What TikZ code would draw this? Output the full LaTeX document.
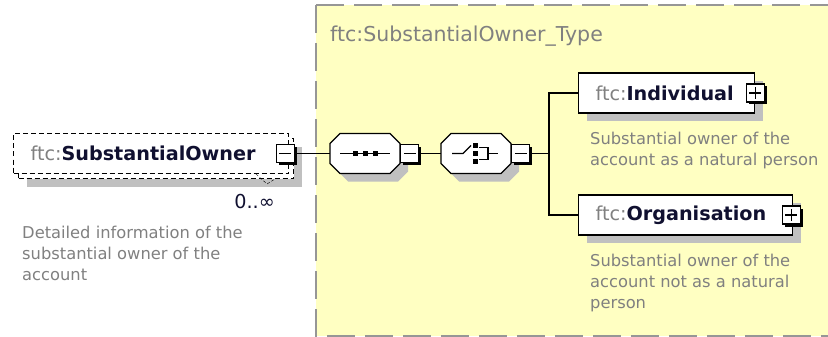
\documentclass[tikz,border=0pt]{standalone}
\usepackage{fontspec}
\setmainfont{DejaVu Sans}
\usetikzlibrary{positioning,shadows}
\definecolor{typebg}{RGB}{255,255,194}
\definecolor{typeline}{RGB}{150,150,150}
\definecolor{docgray}{RGB}{128,128,128}
\definecolor{namecol}{RGB}{16,16,48}
\definecolor{shadowcol}{RGB}{192,192,192}
\newcommand{\ns}{{\color{docgray}ftc:}}
\newcommand{\docfont}{\fontsize{16.3}{21}\selectfont}
\newcommand{\namefont}{\fontsize{19.2}{23}\selectfont}
\newcommand{\titlefont}{\fontsize{20.5}{24}\selectfont}

\begin{document}
\begin{tikzpicture}[x=1pt, y=-1pt,
    elem/.style={draw, line width=1.2pt, fill=white, minimum height=40pt, inner xsep=17pt, inner ysep=0pt, align=left, text=namecol, font=\namefont},
    eshadow/.style={drop shadow={shadow xshift=8pt, shadow yshift=-8pt, fill=shadowcol, opacity=1}},
    comp/.style={minimum width=70pt, minimum height=40pt, inner sep=0pt},
    octa/.pic={
      \fill[shadowcol] (-17,-12) -- (33,-12) -- (43,-2) -- (43,18) -- (33,28) -- (-17,28) -- (-27,18) -- (-27,-2) -- cycle;
      \draw[line width=1.2pt, fill=white] (-25,-20) -- (25,-20) -- (35,-10) -- (35,10) -- (25,20) -- (-25,20) -- (-35,10) -- (-35,-10) -- cycle;
    },
    expbox/.style={draw, line width=1.2pt, fill=white, minimum size=18pt, inner sep=0pt, drop shadow={shadow xshift=2.5pt, shadow yshift=-2.5pt, fill=black, opacity=1}},
    minusbox/.style={expbox, path picture={\draw[line width=1.2pt] ([xshift=3pt]path picture bounding box.west) -- ([xshift=-3pt]path picture bounding box.east);}},
    plusbox/.style={expbox, path picture={\draw[line width=1.2pt] ([xshift=3pt]path picture bounding box.west) -- ([xshift=-3pt]path picture bounding box.east) ([yshift=3pt]path picture bounding box.south) -- ([yshift=-3pt]path picture bounding box.north);}},
    doc/.style={anchor=north west, inner sep=0pt, align=left, text=docgray, font=\docfont},
    conn/.style={line width=1.2pt}]
\useasboundingbox (0,0) rectangle (828,337);
\fill[typebg] (316,5) rectangle (828,336);
\draw[typeline, line width=2pt, dash pattern=on 28pt off 10pt] (316,5) -- (828,5);
\draw[typeline, line width=2pt, dash pattern=on 28pt off 10pt] (316,5) -- (316,336) -- (828,336);
\node[anchor=base west, inner sep=0pt, text=docgray, font=\titlefont] (typename) at (330,42) {ftc:SubstantialOwner\_Type};

\node[elem, eshadow, dash pattern=on 5pt off 3pt, text width=241pt, anchor=west] (ownback) at (18,158.5) {};
\node[elem, dash pattern=on 5pt off 3pt, text width=241pt, anchor=west] (own) at (13,153.5) {\ns\textbf{SubstantialOwner}};
\draw[dash pattern=on 3pt off 2pt] (256,174) -- (267,184) -- (275,179);
\node[minusbox] (ownx) at ([xshift=-4pt]own.east) {};
\node[anchor=base east, inner sep=0pt, text=namecol, font=\namefont] (owncard) at (275,208) {0..∞};
\node[doc] (owndoc) at (22,225.6) {Detailed information of the\\substantial owner of the\\account};

\node[comp] (seq) at (365,153.5) {};
\pic at (seq.center) {octa};
\begin{scope}[shift={(seq.center)}]
  \draw[conn] (-25,0) -- (25,0);
  \foreach \dx in {-10,0,10}
    \fill (\dx-2.5,-2.5) rectangle (\dx+2.5,2.5);
\end{scope}
\node[minusbox, right=0pt of seq] (seqx) {};

\node[comp] (cho) at (476,153.5) {};
\pic at (cho.center) {octa};
\begin{scope}[shift={(cho.center)}, line width=1.2pt]
  \draw (-24,0) -- (-13,0) -- (-5,-8);
  \foreach \dy in {-8,0,8}
    \fill (-3,\dy-2.5) rectangle (2,\dy+2.5);
  \draw (3,-6) -- (12,-6) -- (12,6) -- (3,6) (12,0) -- (22,0);
\end{scope}
\node[minusbox, right=0pt of cho] (chox) {};

\node[elem, eshadow, text width=142pt, anchor=west] (ind) at (578,93) {\ns\textbf{Individual}};
\node[plusbox] (indx) at (ind.east) {};
\node[doc] (inddoc) at (590,131.6) {Substantial owner of the\\account as a natural person};

\node[elem, eshadow, text width=180pt, anchor=west] (org) at (578,215) {\ns\textbf{Organisation}};
\node[plusbox] (orgx) at ([xshift=-2pt]org.east) {};
\node[doc] (orgdoc) at (590,253.6) {Substantial owner of the\\account not as a natural\\person};

\coordinate (fork) at (549,153.5);
\draw[conn] (ownx.east) -- (seq.west);
\draw[conn] (seqx.east) -- (cho.west);
\draw[conn] (chox.east) -- (fork) |- (ind.west);
\draw[conn] (fork) |- (org.west);
\end{tikzpicture}
\end{document}
